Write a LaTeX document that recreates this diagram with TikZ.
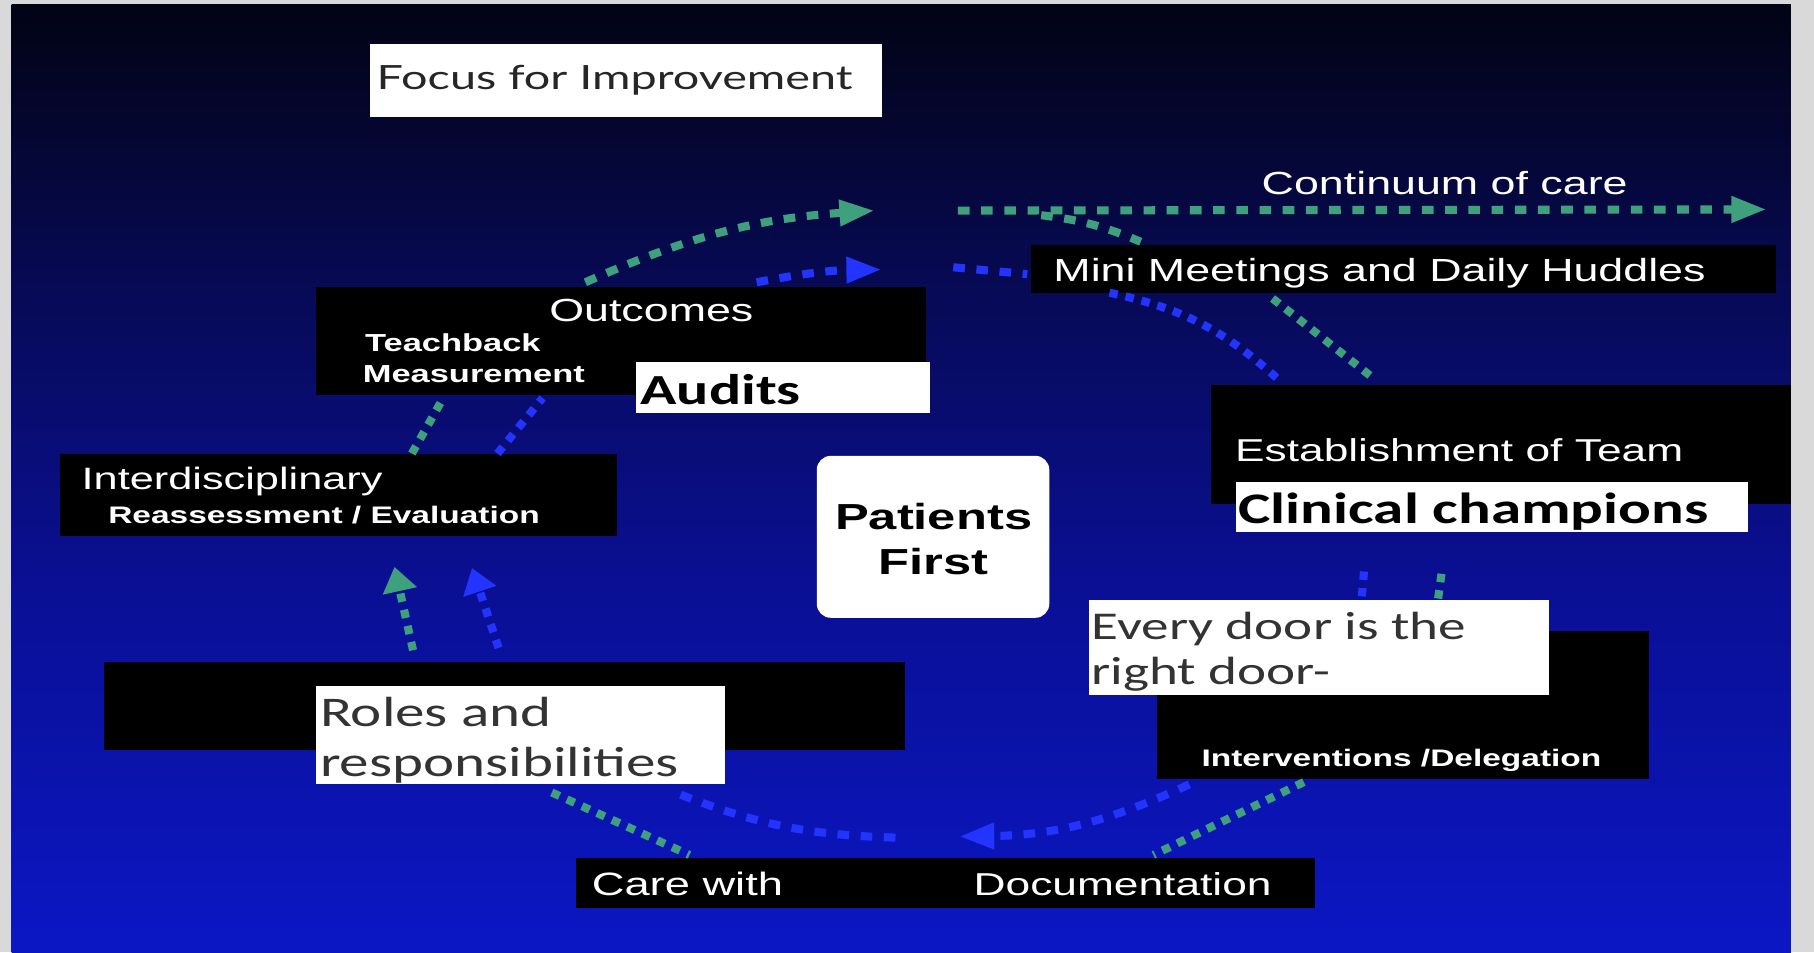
\documentclass[tikz,border=0pt]{standalone}
\usepackage{fontspec}
\setmainfont[FakeStretch=1.4]{Liberation Sans}
\newfontfamily\calibrifont[FakeStretch=1.4]{Carlito}
\newfontfamily\focusfont[FakeStretch=1.4]{Lato}
\usetikzlibrary{arrows.meta,fit}

\definecolor{slidegrey}{HTML}{D9D9D9}
\definecolor{navytop}{HTML}{020314}
\definecolor{navyhigh}{HTML}{070A55}
\definecolor{navymid}{HTML}{0A0F92}
\definecolor{navybot}{HTML}{0B17C4}
\definecolor{ringgreen}{HTML}{3FA07E}
\definecolor{ringblue}{HTML}{2434FF}
\pgfdeclareverticalshading{slidesky}{100bp}{color(0bp)=(navybot); color(25bp)=(navybot);
    color(45bp)=(navymid); color(60bp)=(navyhigh); color(75bp)=(navytop); color(100bp)=(navytop)}

\begin{document}
\begin{tikzpicture}[x=0.011569cm, y=-0.011569cm,
                    steep/.style={dash pattern=on 2.4pt off 2.3pt},
                    uptip/.style={-{Triangle[length=7pt,width=9.5pt]}}]
    \useasboundingbox (0,0) rectangle (1568,823);
    \fill[slidegrey] (0,0) rectangle (1568,823);
    \shade[shading=slidesky] (10,4) rectangle (1548,823);

    % panels
    \begin{scope}[every node/.style={inner sep=0pt, outer sep=0pt}]
        \node[fill=white, fit={(320,38) (762,101)}] (focus) {};
        \node[fill=black, fit={(273,248) (800,341)}] (outcomes) {};
        \node[fill=white, fit={(550,313) (804,357)}] (audits) {};
        \node[fill=black, fit={(52,392) (533,463)}] (interdisc) {};
        \node[fill=black, fit={(891,212) (1535,253)}] (huddles) {};
        \node[fill=black, fit={(1047,333) (1548,436)}] (team) {};
        \node[fill=white, fit={(1068,417) (1511,460)}] (champions) {};
        \node[fill=black, fit={(1000,545) (1425,673)}] (interventions) {};
        \node[fill=white, fit={(941,519) (1339,601)}] (door) {};
        \node[fill=black, fit={(90,572) (782,648)}] (rolesback) {};
        \node[fill=white, fit={(273,593) (627,678)}] (roles) {};
        \node[fill=black, fit={(498,742) (1137,785)}] (care) {};
        \node[fill=white, rounded corners=4pt, fit={(706,394) (907,534)}] (patients) {};
    \end{scope}

    % texts
    \begin{scope}[every node/.style={anchor=west, inner sep=0pt, text=white}]
        \node[text=black!85, font=\focusfont\fontsize{9.5}{12}\selectfont] (focustext) at (325,69) {Focus for Improvement};
        \node[font=\fontsize{9.1}{11}\selectfont] (continuum) at (1090,158) {Continuum of care};
        \node[font=\fontsize{9.1}{11}\selectfont] (huddlestext) at (910,236) {Mini Meetings and Daily Huddles};
        \node[anchor=center, font=\fontsize{9.1}{11}\selectfont] (outcomestext) at (563,268) {Outcomes};
        \node[font=\bfseries\fontsize{7}{8}\selectfont] (teachback) at (315,296) {Teachback};
        \node[font=\bfseries\fontsize{7}{8}\selectfont] (measurement) at (313,323) {Measurement};
        \node[text=black, font=\calibrifont\bfseries\fontsize{12.2}{14}\selectfont] (auditstext) at (553,337) {Audits};
        \node[font=\fontsize{8.8}{10}\selectfont] (interdisctext) at (70,416) {Interdisciplinary};
        \node[font=\bfseries\fontsize{6.8}{8}\selectfont] (reassess) at (93,445) {Reassessment / Evaluation};
        \node[anchor=center, align=center, text=black,
              font=\bfseries\fontsize{10.3}{12.8}\selectfont] (patientstext) at (807,466) {Patients\\First};
        \node[font=\fontsize{9}{11}\selectfont] (teamtext) at (1067,389) {Establishment of Team};
        \node[text=black, font=\calibrifont\bfseries\fontsize{12.4}{14}\selectfont] (championstext) at (1070,442) {Clinical champions};
        \node[text=black!80, align=left, font=\calibrifont\fontsize{11.2}{12.8}\selectfont] (doortext) at (943,563) {Every door is the\\right door-};
        \node[font=\bfseries\fontsize{6.8}{8}\selectfont] (delegation) at (1038,657) {Interventions /Delegation};
        \node[text=black!80, align=left, font=\calibrifont\fontsize{12}{14.2}\selectfont] (rolestext) at (276,640) {Roles and\\responsibilities};
        \node[font=\fontsize{9.2}{11}\selectfont] (carewith) at (511,764) {Care with};
        \node[font=\fontsize{9}{11}\selectfont] (documentation) at (841,764) {Documentation};
    \end{scope}

    % loose ends of the dotted rings
    \coordinate (g1s) at (506,244);   \coordinate (g1e) at (756,182);
    \coordinate (g3s) at (828,182);   \coordinate (g3e) at (1527,181);
    \coordinate (g4s) at (900,186);   \coordinate (g4e) at (986,209);
    \coordinate (g7s) at (1100,258);  \coordinate (g7e) at (1186,326);
    \coordinate (g8s) at (1246,496);  \coordinate (g8e) at (1243,518);
    \coordinate (g9s) at (1127,676);  \coordinate (g9e) at (997,739);
    \coordinate (g12s) at (477,685);  \coordinate (g12e) at (596,739);
    \coordinate (g13s) at (357,562);  \coordinate (g13e) at (341,490);
    \coordinate (g15s) at (356,392);  \coordinate (g15e) at (382,346);
    \coordinate (b2s) at (654,244);   \coordinate (b2e) at (762,233);
    \coordinate (b5s) at (824,231);   \coordinate (b5e) at (888,237);
    \coordinate (b6s) at (959,253);   \coordinate (b6e) at (1105,328);
    \coordinate (b8s) at (1179,494);  \coordinate (b8e) at (1177,517);
    \coordinate (b10s) at (1028,678); \coordinate (b10e) at (829,723);
    \coordinate (b11s) at (774,724);  \coordinate (b11e) at (581,684);
    \coordinate (b14s) at (431,560);  \coordinate (b14e) at (408,491);
    \coordinate (b16s) at (430,392);  \coordinate (b16e) at (469,344);

    \begin{scope}[>={Triangle[length=10pt,width=7pt]},
                  every edge/.style={draw=ringgreen, line width=2.3pt, dash pattern=on 3.3pt off 3.3pt}]
        \path [->] (g1s) edge[bend left=10] (g1e);
        \path [->] (g3s) edge (g3e);
        \path (g4s) edge[bend left=8] (g4e);
        \path (g7s) edge[steep] (g7e);
        \path (g8s) edge[steep] (g8e);
        \path (g9s) edge[steep] (g9e);
        \path (g12s) edge[steep] (g12e);
        \path (g13s) edge[steep, uptip] (g13e);
        \path (g15s) edge[steep] (g15e);
    \end{scope}

    \begin{scope}[>={Triangle[length=10pt,width=7pt]},
                  every edge/.style={draw=ringblue, line width=2.3pt, dash pattern=on 3.3pt off 3.3pt}]
        \path [->] (b2s) edge[bend left=5] (b2e);
        \path (b5s) edge (b5e);
        \path (b6s) edge[steep, bend left=15] (b6e);
        \path (b8s) edge[steep] (b8e);
        \path [->] (b10s) edge[bend left=12] (b10e);
        \path (b11s) edge[bend left=10] (b11e);
        \path (b14s) edge[steep, uptip] (b14e);
        \path (b16s) edge[steep] (b16e);
    \end{scope}
\end{tikzpicture}
\end{document}
